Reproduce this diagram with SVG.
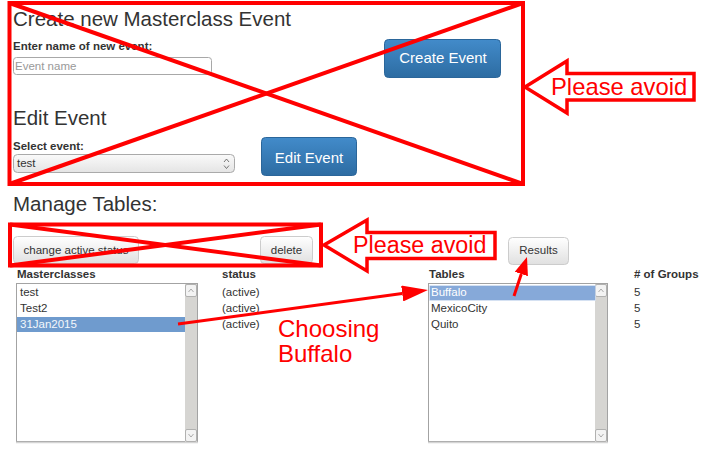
<svg xmlns="http://www.w3.org/2000/svg" width="718" height="476" viewBox="0 0 718 476">
<style>
text{font-family:"Liberation Sans",Arial,sans-serif;fill:#333}
.h{font-size:20.5px}
.b{font-size:11.5px;font-weight:bold}
.t{font-size:11.5px}
.wb{font-size:15px;fill:#fff;text-anchor:middle}
.gb{font-size:11.5px;text-anchor:middle}
.ann{font-size:24px;fill:#ff0000}
.blue{fill:url(#gBlue);stroke:#2b669a;stroke-width:1}
.gray{fill:url(#gGray);stroke:#ccc;stroke-width:1}
.lb{fill:#fff;stroke:#a3a3a3;stroke-width:1}
.track{fill:#d6d5d2}
.sbtn{fill:#f3f3f3;stroke:#a3a3a3;stroke-width:0.8}
.chev{fill:none;stroke:#999;stroke-width:0.8}
.red{fill:none;stroke:#ff0000;stroke-width:4}
.redarrow{fill:#fff;stroke:#ff0000;stroke-width:3.5;stroke-linejoin:miter}
.conn{stroke:#ff0000;stroke-width:3;fill:none}
</style>
<defs>
<linearGradient id="gBlue" x1="0" y1="0" x2="0" y2="1"><stop offset="0" stop-color="#428bca"/><stop offset="1" stop-color="#2d6ca2"/></linearGradient>
<linearGradient id="gGray" x1="0" y1="0" x2="0" y2="1"><stop offset="0" stop-color="#ffffff"/><stop offset="1" stop-color="#e0e0e0"/></linearGradient>
<linearGradient id="gSel" x1="0" y1="0" x2="0" y2="1"><stop offset="0" stop-color="#fafafa"/><stop offset="1" stop-color="#e4e4e4"/></linearGradient>
<marker id="ahA" viewBox="0 0 26 16" refX="0" refY="8" markerWidth="26" markerHeight="16" markerUnits="userSpaceOnUse" orient="auto"><path d="M0,0 L26,8 L0,16 z" fill="#ff0000"/></marker>
<marker id="ahB" viewBox="0 0 18 14" refX="0" refY="7" markerWidth="18" markerHeight="14" markerUnits="userSpaceOnUse" orient="auto"><path d="M0,0 L18,7 L0,14 z" fill="#ff0000"/></marker>
</defs>
<rect width="718" height="476" fill="#fff"/>

<g id="create-section">
<text class="h" x="13" y="26">Create new Masterclass Event</text>
<text class="b" x="13" y="50">Enter name of new event:</text>
<rect x="13.5" y="57.5" width="198" height="17" rx="3" fill="#fff" stroke="#a8a8a8"/>
<text class="t" x="15" y="70" style="fill:#999">Event name</text>
</g>
<g id="create-button">
<rect class="blue" x="384.5" y="39.5" width="116" height="38" rx="4"/>
<text class="wb" x="443" y="63">Create Event</text>
</g>

<g id="edit-section">
<text class="h" x="13" y="125">Edit Event</text>
<text class="b" x="13" y="150">Select event:</text>
<rect x="13.5" y="154.5" width="221" height="18" rx="4" fill="url(#gSel)" stroke="#aaa"/>
<text class="t" x="17" y="167">test</text>
<path class="chev" d="M224,162 L226.5,159 L229,162 M224,165.5 L226.5,168.5 L229,165.5" style="stroke:#555"/>
</g>
<g id="edit-button">
<rect class="blue" x="261.5" y="137.5" width="95" height="38" rx="4"/>
<text class="wb" x="309" y="163">Edit Event</text>
</g>

<g id="manage-tables">
<text class="h" x="13" y="211">Manage Tables:</text>
</g>
<g id="btn-change">
<rect class="gray" x="13.5" y="236.5" width="125" height="27" rx="4"/>
<text class="gb" x="76" y="254">change active status</text>
</g>
<g id="btn-delete">
<rect class="gray" x="260.5" y="236.5" width="52" height="27" rx="4"/>
<text class="gb" x="286.5" y="254">delete</text>
</g>
<g id="btn-results">
<rect class="gray" x="508.5" y="237.5" width="60" height="27" rx="4"/>
<text class="gb" x="538.5" y="254">Results</text>
</g>

<g id="masterclasses">
<text class="b" x="17" y="278">Masterclasses</text>
<rect class="lb" x="16.5" y="283.5" width="181" height="158"/>
<line x1="16" y1="442.5" x2="198" y2="442.5" stroke="#d4d4d4" stroke-width="1.5"/>
<rect class="track" x="185" y="284" width="12" height="158"/>
<rect class="sbtn" x="185.5" y="284.5" width="11" height="12" rx="1.5"/>
<path class="chev" d="M188.5,292 L191,289 L193.5,292"/>
<rect class="sbtn" x="185.5" y="429.5" width="11" height="12" rx="1.5"/>
<path class="chev" d="M188.5,434 L191,437 L193.5,434"/>
<rect x="17" y="317" width="168" height="15" fill="#6f9bce"/>
<text class="t" x="20" y="296">test</text>
<text class="t" x="20" y="312">Test2</text>
<text class="t" x="20" y="328" style="fill:#f4f7fb">31Jan2015</text>
</g>

<g id="status">
<text class="b" x="222" y="278">status</text>
<text class="t" x="222" y="296">(active)</text>
<text class="t" x="222" y="312">(active)</text>
<text class="t" x="222" y="328">(active)</text>
</g>

<g id="tables">
<text class="b" x="429" y="278">Tables</text>
<rect class="lb" x="428.5" y="283.5" width="179" height="158"/>
<line x1="428" y1="442.5" x2="608" y2="442.5" stroke="#d4d4d4" stroke-width="1.5"/>
<rect class="track" x="595" y="284" width="12" height="158"/>
<rect class="sbtn" x="595.5" y="284.5" width="11" height="12" rx="1.5"/>
<path class="chev" d="M598.5,292 L601,289 L603.5,292"/>
<rect class="sbtn" x="595.5" y="429.5" width="11" height="12" rx="1.5"/>
<path class="chev" d="M598.5,434 L601,437 L603.5,434"/>
<rect x="429.5" y="285.5" width="166" height="15" fill="#86a9d9" stroke="#e8eef8" stroke-width="1" stroke-dasharray="1,1"/>
<text class="t" x="431" y="296" style="fill:#fff">Buffalo</text>
<text class="t" x="431" y="312">MexicoCity</text>
<text class="t" x="431" y="328">Quito</text>
</g>

<g id="groups">
<text class="b" x="634" y="278"># of Groups</text>
<text class="t" x="634" y="296">5</text>
<text class="t" x="634" y="312">5</text>
<text class="t" x="634" y="328">5</text>
</g>

<g id="avoid-box-1">
<rect class="red" x="9.5" y="3" width="513.5" height="181"/>
<line class="red" x1="9.5" y1="3" x2="523" y2="184"/>
<line class="red" x1="9.5" y1="184" x2="523" y2="3"/>
</g>
<g id="avoid-arrow-1">
<polygon class="redarrow" points="525,87 567,61 567,73.5 694,73.5 694,100 567,100 567,113"/>
<text class="ann" x="551" y="95" style="font-size:23.8px">Please avoid</text>
</g>

<g id="avoid-box-2">
<rect class="red" x="10" y="224.5" width="311" height="41"/>
<line class="red" x1="10" y1="224.5" x2="321" y2="265.5"/>
<line class="red" x1="10" y1="265.5" x2="321" y2="224.5"/>
</g>
<g id="avoid-arrow-2">
<polygon class="redarrow" points="324,245 367,220 367,232.5 495,232.5 495,258.5 367,258.5 367,271"/>
<text class="ann" x="353" y="253" style="font-size:23.3px">Please avoid</text>
</g>

<g id="choosing-label">
<text class="ann" x="278" y="337">Choosing</text>
<text class="ann" x="278" y="362">Buffalo</text>
</g>

<g id="connectors">
<line class="conn" x1="178" y1="324" x2="402.2" y2="293.5" marker-end="url(#ahA)"/>
<line class="conn" x1="514" y1="296" x2="521.3" y2="274" marker-end="url(#ahB)"/>
</g>
</svg>
